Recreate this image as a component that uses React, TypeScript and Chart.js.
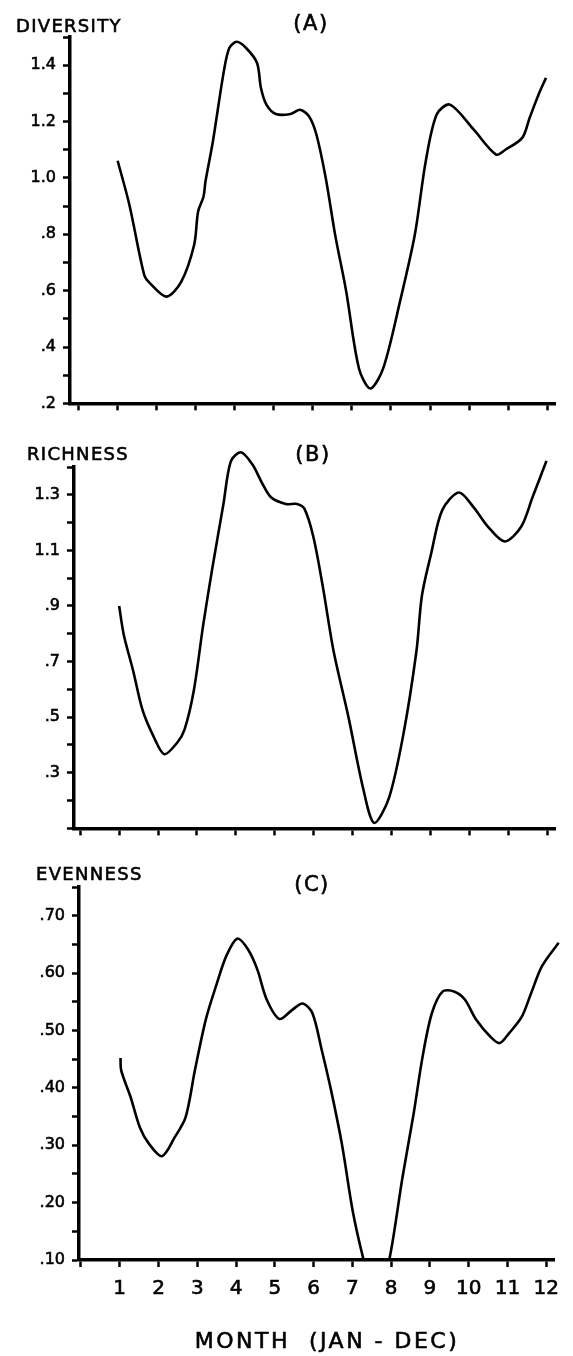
import React, { useEffect, useRef } from 'react';
import { Chart, registerables } from 'chart.js';

Chart.register(...registerables);

const FONT = "'DejaVu Sans', 'Liberation Sans', sans-serif";

// Month positions (Jan = 1) and index values along each curve
const diversityMonths = [
  1.0, 1.3, 1.68, 1.83, 2.25, 2.63, 2.96, 3.06, 3.2, 3.25, 3.44, 3.72, 3.86, 4.05,
  4.29, 4.57, 4.67, 4.81, 5.05, 5.43, 5.67, 5.9, 6.09, 6.33, 6.57, 6.85, 7.18, 7.47,
  7.8, 8.23, 8.61, 8.89, 9.17, 9.51, 10.12, 10.69, 10.93, 11.36, 11.55, 11.78, 11.97,
];
const diversityValues = [
  1.061, 0.905, 0.656, 0.626, 0.579, 0.632, 0.763, 0.88, 0.934, 0.988, 1.13, 1.379,
  1.461, 1.483, 1.461, 1.408, 1.319, 1.26, 1.227, 1.227, 1.242, 1.219, 1.154, 0.999,
  0.798, 0.6, 0.324, 0.253, 0.324, 0.561, 0.798, 1.059, 1.225, 1.26, 1.171, 1.083,
  1.1, 1.142, 1.213, 1.296, 1.355,
];

const richnessMonths = [
  1.0, 1.12, 1.36, 1.6, 1.88, 2.16, 2.49, 2.68, 2.92, 3.16, 3.39, 3.68, 3.87, 4.13,
  4.43, 4.67, 4.91, 5.28, 5.57, 5.76, 5.99, 6.23, 6.51, 6.89, 7.27, 7.55, 7.93, 8.31,
  8.64, 8.78, 9.02, 9.3, 9.73, 10.11, 10.48, 10.91, 11.33, 11.62, 11.98,
];
const richnessValues = [
  0.9, 0.796, 0.667, 0.526, 0.432, 0.367, 0.408, 0.455, 0.597, 0.832, 1.032, 1.267,
  1.42, 1.453, 1.408, 1.343, 1.29, 1.267, 1.267, 1.25, 1.149, 0.973, 0.738, 0.502,
  0.244, 0.12, 0.208, 0.443, 0.738, 0.937, 1.09, 1.244, 1.308, 1.255, 1.185, 1.132,
  1.185, 1.29, 1.422,
];

const evennessMonths = [
  1.02, 1.04, 1.28, 1.52, 1.76, 2.09, 2.42, 2.7, 2.94, 3.22, 3.51, 3.75, 4.03, 4.31,
  4.55, 4.79, 5.12, 5.45, 5.72, 5.97, 6.21, 6.45, 6.73, 7.01, 7.28, 7.62, 7.96, 8.29,
  8.58, 8.81, 9.05, 9.33, 9.62, 9.9, 10.19, 10.56, 10.8, 11.04, 11.37, 11.61, 11.89,
  12.32,
];
const evennessValues = [
  0.452, 0.43, 0.384, 0.331, 0.302, 0.281, 0.314, 0.349, 0.431, 0.519, 0.583, 0.63,
  0.66, 0.641, 0.606, 0.554, 0.52, 0.536, 0.547, 0.53, 0.466, 0.396, 0.302, 0.185,
  0.103, 0.02, 0.103, 0.243, 0.355, 0.454, 0.53, 0.568, 0.568, 0.554, 0.519, 0.489,
  0.478, 0.495, 0.524, 0.565, 0.612, 0.653,
];

const monthLabels = ['1', '2', '3', '4', '5', '6', '7', '8', '9', '10', '11', '12'];

const diversityTickLabels = ['.2', '.4', '.6', '.8', '1.0', '1.2', '1.4'];
const richnessTickLabels = ['.3', '.5', '.7', '.9', '1.1', '1.3'];
const evennessTickLabels = ['.10', '.20', '.30', '.40', '.50', '.60', '.70'];

const fmtTenths = (v: number) => {
  const t = Math.round(v * 10);
  return t >= 10 ? (t / 10).toFixed(1) : '.' + t;
};
const fmtHundredths = (v: number) => '.' + String(Math.round(v * 100)).padStart(2, '0');

type TextItem = { text: string; x: number; y: number; size: number; spacing: number; align: CanvasTextAlign };

type PanelProps = {
  months: number[];
  values: number[];
  yMin: number;
  yMax: number;
  yStep: number;
  yTickLabels: string[];
  yFormat: (v: number) => string;
  height: number;
  area: { left: number; right: number; top: number; bottom: number };
  xMin: number;
  xMax: number;
  clip: { left: number; top: number; right: number; bottom: number };
  showMonthLabels: boolean;
  texts: TextItem[];
};

const WIDTH = 573;

function Panel(props: PanelProps) {
  const ref = useRef<HTMLCanvasElement | null>(null);

  useEffect(() => {
    const canvas = ref.current;
    if (!canvas) return;
    const p = props;

    // Axis captions, panel letters and the month title, drawn with letter spacing
    const captions = {
      id: 'panelCaptions',
      afterDraw(chart: any) {
        const ctx = chart.ctx as CanvasRenderingContext2D;
        ctx.save();
        ctx.fillStyle = '#000';
        ctx.strokeStyle = '#000';
        ctx.lineWidth = 0.6;
        ctx.textBaseline = 'alphabetic';
        for (const t of p.texts) {
          ctx.font = `${t.size}px ${FONT}`;
          (ctx as any).letterSpacing = `${t.spacing}px`;
          ctx.textAlign = t.align;
          ctx.fillText(t.text, t.x, t.y);
          ctx.strokeText(t.text, t.x, t.y);
        }
        ctx.restore();
      },
    };

    const axisCommon = {
      border: { display: true, color: '#000', width: 3.5 },
      grid: {
        display: true,
        drawOnChartArea: false,
        drawTicks: true,
        tickLength: 7,
        tickWidth: 2.5,
        tickColor: '#000',
      },
    };

    const chart = new Chart(canvas, {
      type: 'line',
      data: {
        datasets: [
          {
            data: p.months.map((m, i) => ({ x: m, y: p.values[i] })),
            borderColor: '#000',
            borderWidth: 2.6,
            pointRadius: 0,
            tension: 0.3,
            fill: false,
            clip: p.clip,
          } as any,
        ],
      },
      options: {
        animation: false,
        responsive: false,
        maintainAspectRatio: false,
        events: [],
        layout: {
          padding: { left: 0, top: p.area.top, right: WIDTH - p.area.right, bottom: 0 },
        },
        plugins: { legend: { display: false }, tooltip: { enabled: false } },
        scales: {
          x: {
            type: 'linear',
            min: p.xMin,
            max: p.xMax,
            ...axisCommon,
            afterFit: (s: any) => {
              s.height = p.height - p.area.bottom;
            },
            ticks: {
              stepSize: 1,
              includeBounds: false,
              autoSkip: false,
              maxRotation: 0,
              padding: 10,
              color: '#000',
              textStrokeColor: '#000',
              textStrokeWidth: 0.6,
              font: { family: FONT, size: 20 },
              callback: (v: any) => {
                const n = Number(v);
                return p.showMonthLabels && n >= 1 ? monthLabels[n - 1] ?? '' : '';
              },
            },
          },
          y: {
            type: 'linear',
            min: p.yMin,
            max: p.yMax,
            ...axisCommon,
            afterFit: (s: any) => {
              s.width = p.area.left;
            },
            ticks: {
              stepSize: p.yStep,
              includeBounds: false,
              autoSkip: false,
              maxTicksLimit: 100,
              padding: 7,
              color: '#000',
              textStrokeColor: '#000',
              textStrokeWidth: 0.6,
              font: { family: FONT, size: 16 },
              callback: (v: any) => {
                const s = p.yFormat(Number(v));
                return p.yTickLabels.includes(s) ? s : '';
              },
            },
          },
        },
      } as any,
      plugins: [captions],
    });

    return () => chart.destroy();
  }, []);

  return <canvas ref={ref} width={WIDTH} height={props.height} style={{ display: 'block' }} />;
}

export default function App() {
  return (
    <div style={{ position: 'absolute', left: 0, top: 0, width: WIDTH, height: 1356, background: '#fff' }}>
      <div style={{ position: 'absolute', left: 0, top: 0 }}>
        <Panel
          months={diversityMonths}
          values={diversityValues}
          yMin={0.2}
          yMax={1.5}
          yStep={0.1}
          yTickLabels={diversityTickLabels}
          yFormat={fmtTenths}
          height={420}
          area={{ left: 70, right: 555, top: 37, bottom: 405 }}
          xMin={-0.22}
          xMax={12.2}
          clip={{ left: 0, top: 10, right: 10, bottom: 0 }}
          showMonthLabels={false}
          texts={[
            { text: 'DIVERSITY', x: 16, y: 32, size: 18, spacing: 1.3, align: 'left' },
            { text: '(A)', x: 311, y: 30, size: 21, spacing: 1.5, align: 'center' },
          ]}
        />
      </div>
      <div style={{ position: 'absolute', left: 0, top: 420 }}>
        <Panel
          months={richnessMonths}
          values={richnessValues}
          yMin={0.1}
          yMax={1.4}
          yStep={0.1}
          yTickLabels={richnessTickLabels}
          yFormat={fmtTenths}
          height={425}
          area={{ left: 74, right: 555, top: 47, bottom: 415 }}
          xMin={-0.16}
          xMax={12.2}
          clip={{ left: 0, top: 30, right: 10, bottom: 0 }}
          showMonthLabels={false}
          texts={[
            { text: 'RICHNESS', x: 27, y: 40, size: 18, spacing: 1.3, align: 'left' },
            { text: '(B)', x: 313, y: 41, size: 21, spacing: 1.5, align: 'center' },
          ]}
        />
      </div>
      <div style={{ position: 'absolute', left: 0, top: 845 }}>
        <Panel
          months={evennessMonths}
          values={evennessValues}
          yMin={0.1}
          yMax={0.75}
          yStep={0.05}
          yTickLabels={evennessTickLabels}
          yFormat={fmtHundredths}
          height={511}
          area={{ left: 79, right: 554, top: 42, bottom: 415 }}
          xMin={-0.05}
          xMax={12.2}
          clip={{ left: 0, top: 10, right: 14, bottom: 0 }}
          showMonthLabels={true}
          texts={[
            { text: 'EVENNESS', x: 36, y: 35, size: 18, spacing: 1.3, align: 'left' },
            { text: '(C)', x: 312, y: 46, size: 21, spacing: 1.5, align: 'center' },
            { text: 'MONTH  (JAN - DEC)', x: 327, y: 503, size: 22, spacing: 2.5, align: 'center' },
          ]}
        />
      </div>
    </div>
  );
}
